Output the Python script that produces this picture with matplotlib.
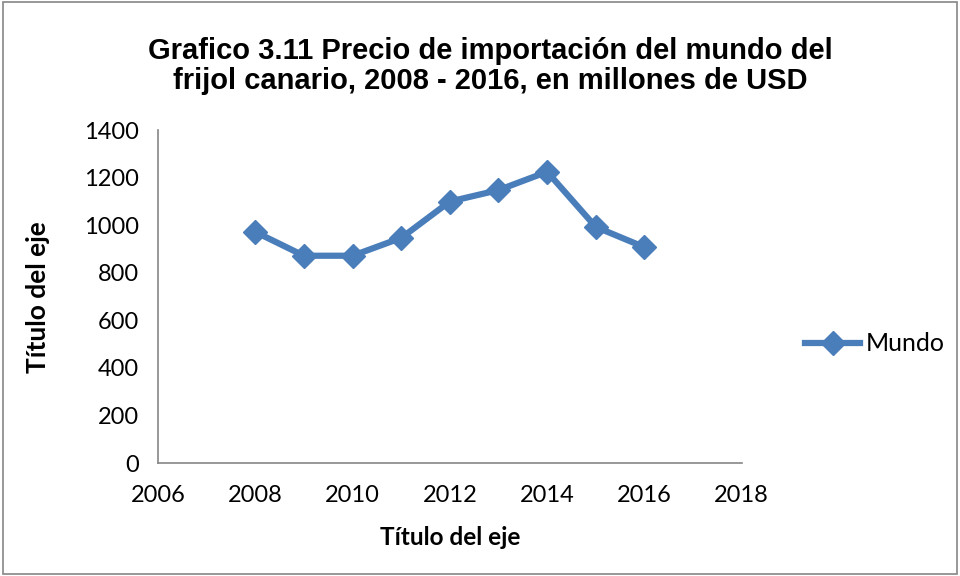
import matplotlib
matplotlib.use('Agg')
import matplotlib.pyplot as plt
from matplotlib.patches import Rectangle

years = [2008, 2009, 2010, 2011, 2012, 2013, 2014, 2015, 2016]
mundo = [972, 872, 872, 947, 1100, 1148, 1225, 993, 908]

x_ticks = [2006, 2008, 2010, 2012, 2014, 2016, 2018]
y_ticks = [0, 200, 400, 600, 800, 1000, 1200, 1400]

title = 'Grafico 3.11 Precio de importación del mundo del\nfrijol canario, 2008 - 2016, en millones de USD'
axis_title = 'Título del eje'

BLUE = '#4A7EBB'
GRAY = '#868686'
TICK_FONT = 'Lato'

fig = plt.figure(figsize=(9.6, 5.76), dpi=100)
ax = fig.add_axes([0.1646, 0.196, 0.608, 0.578])

ax.plot(years, mundo, color=BLUE, linewidth=4.5, marker='D', markersize=12,
        markerfacecolor=BLUE, markeredgecolor=BLUE, label='Mundo')

ax.set_xlim(2006, 2018)
ax.set_ylim(0, 1400)
ax.set_xticks(x_ticks)
ax.set_yticks(y_ticks)
ax.tick_params(length=0, labelsize=17)
ax.tick_params(axis='x', pad=16)
ax.tick_params(axis='y', pad=14)
for lab in ax.get_xticklabels() + ax.get_yticklabels():
    lab.set_fontfamily(TICK_FONT)

for side in ['top', 'right']:
    ax.spines[side].set_visible(False)
for side in ['left', 'bottom']:
    ax.spines[side].set_color(GRAY)
    ax.spines[side].set_linewidth(1.2)

ax.set_xlabel(axis_title, fontsize=17.5, fontweight='bold', fontfamily=TICK_FONT, labelpad=14)
ax.set_ylabel(axis_title, fontsize=19, fontweight='bold', fontfamily=TICK_FONT, labelpad=24)

fig.text(0.511, 0.886, title, ha='center', va='center', fontsize=21,
         fontweight='bold', fontfamily='Liberation Sans', linespacing=1.1)

leg = ax.legend(loc='center left', bbox_to_anchor=(0.826, 0.403), bbox_transform=fig.transFigure,
                frameon=False, handlelength=2.2, handletextpad=0.2, borderpad=0.0,
                prop={'family': TICK_FONT, 'size': 18})

fig.patches.append(Rectangle((0.003, 0.004), 0.994, 0.992, transform=fig.transFigure,
                             fill=False, edgecolor=GRAY, linewidth=1.2))

fig.savefig('out.png', dpi=100)
